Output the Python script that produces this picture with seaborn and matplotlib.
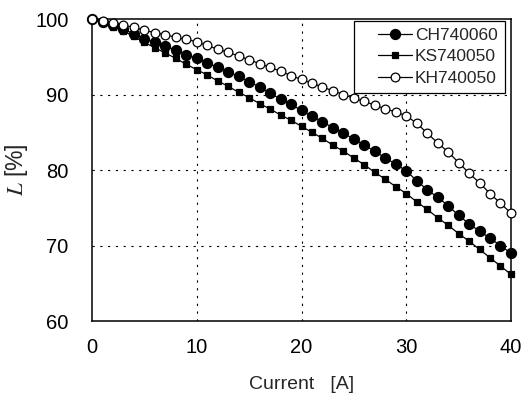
import numpy as np
import pandas as pd
import matplotlib
matplotlib.use("Agg")
import matplotlib.pyplot as plt
import seaborn as sns
from matplotlib.legend_handler import HandlerLine2D

# データ
current = list(range(0, 41))
ch740060 = [100.0, 99.6, 99.2, 98.7, 98.0, 97.4, 96.9, 96.4, 95.9, 95.3,
            94.8, 94.2, 93.6, 93.0, 92.4, 91.7, 91.0, 90.2, 89.4, 88.7,
            87.9, 87.1, 86.4, 85.6, 84.9, 84.1, 83.3, 82.5, 81.6, 80.8,
            79.9, 78.6, 77.4, 76.4, 75.3, 74.0, 72.9, 71.9, 71.0, 70.0, 69.0]
ks740050 = [100.0, 99.5, 99.0, 98.4, 97.7, 96.9, 96.2, 95.5, 94.8, 94.0,
            93.3, 92.6, 91.8, 91.1, 90.3, 89.6, 88.8, 88.1, 87.3, 86.6,
            85.8, 85.0, 84.2, 83.3, 82.5, 81.6, 80.7, 79.7, 78.8, 77.8,
            76.9, 75.8, 74.8, 73.7, 72.7, 71.6, 70.6, 69.5, 68.4, 67.3, 66.2]
kh740050 = [100.0, 99.8, 99.5, 99.2, 98.9, 98.5, 98.2, 97.9, 97.6, 97.3,
            97.0, 96.5, 96.0, 95.6, 95.1, 94.6, 94.1, 93.6, 93.1, 92.5,
            92.0, 91.5, 91.0, 90.5, 90.0, 89.5, 89.1, 88.6, 88.1, 87.7,
            87.2, 86.2, 84.9, 83.6, 82.4, 81.0, 79.6, 78.3, 76.9, 75.6, 74.3]
series_names = ["CH740060", "KS740050", "KH740050"]
x_ticks = [0, 10, 20, 30, 40]
y_ticks = [60, 70, 80, 90, 100]

sns.set_style("white")
plt.rcParams["font.family"] = ["Liberation Sans", "DejaVu Sans"]
plt.rcParams["mathtext.fontset"] = "stix"

df = pd.DataFrame({"Current": current * 3,
                   "L": ch740060 + ks740050 + kh740050,
                   "name": np.repeat(series_names, len(current))})


class PaddedLineHandler(HandlerLine2D):
    """凡例の線を右側だけに描く（左に余白）"""
    def create_artists(self, legend, orig_handle, xdescent, ydescent,
                       width, height, fontsize, trans):
        pad = 0.33 * width
        return super().create_artists(legend, orig_handle, xdescent - pad,
                                      ydescent, width - pad, height,
                                      fontsize, trans)


fig = plt.figure(figsize=(5.23, 3.97), dpi=100)
ax = fig.add_axes([0.176, 0.191, 0.801, 0.761])

# 系列ごとのマーカー設定
styles = {
    "CH740060": dict(marker="o", markersize=7.2, markerfacecolor="black"),
    "KS740050": dict(marker="s", markersize=3.8, markerfacecolor="black"),
    "KH740050": dict(marker="o", markersize=6.3, markerfacecolor="white"),
}
for name in series_names:
    sns.lineplot(data=df[df["name"] == name], x="Current", y="L", ax=ax,
                 color="black", linewidth=0.9, markeredgecolor="black",
                 markeredgewidth=0.9, label=name, clip_on=False,
                 zorder=3, **styles[name])

ax.set_xlim(0, 40)
ax.set_ylim(60, 100)
ax.set_xticks(x_ticks)
ax.set_yticks(y_ticks)
ax.tick_params(axis="both", length=0, labelsize=14.5, colors="black")
ax.tick_params(axis="x", pad=12)
ax.tick_params(axis="y", pad=17)

# 点線グリッド（内側のみ）
for xv in x_ticks[1:-1]:
    ax.axvline(xv, color="black", linewidth=0.8, linestyle=(0, (2, 5)), zorder=1)
for yv in y_ticks[1:-1]:
    ax.axhline(yv, color="black", linewidth=0.8, linestyle=(0, (2, 5)), zorder=1)

for sp in ax.spines.values():
    sp.set_color("black")
    sp.set_linewidth(1.1)

ax.set_xlabel("Current   [A]", fontsize=14, labelpad=14)
ax.set_ylabel(r"$\mathit{L}$ [%]", fontsize=16.5, labelpad=4)

leg = ax.legend(loc="upper right", bbox_to_anchor=(0.985, 0.995),
                borderaxespad=0, fontsize=12.5, frameon=True, fancybox=False,
                edgecolor="black", framealpha=1, handlelength=2.9,
                handletextpad=0.2, labelspacing=0.38, borderpad=0.4,
                handler_map={plt.Line2D: PaddedLineHandler()})
leg.get_frame().set_linewidth(0.9)

fig.savefig("out.png", dpi=100)
plt.close("all")
